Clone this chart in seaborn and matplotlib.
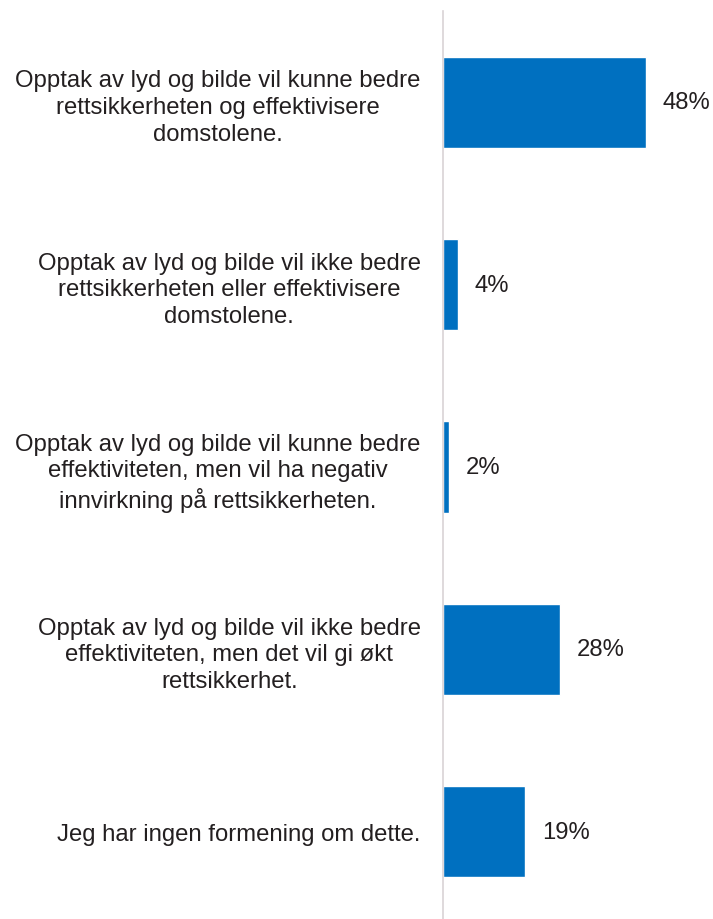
import matplotlib
matplotlib.use("Agg")
from matplotlib import pyplot as plt
import pandas as pd
import seaborn as sns

categories = [
    "Opptak av lyd og bilde vil kunne bedre\nrettsikkerheten og effektivisere\ndomstolene.",
    "Opptak av lyd og bilde vil ikke bedre\nrettsikkerheten eller effektivisere\ndomstolene.",
    "Opptak av lyd og bilde vil kunne bedre\neffektiviteten, men vil ha negativ\ninnvirkning på rettsikkerheten.",
    "Opptak av lyd og bilde vil ikke bedre\neffektiviteten, men det vil gi økt\nrettsikkerhet.",
    "Jeg har ingen formening om dette.",
]
values = [48, 3.6, 1.4, 27.7, 19.4]
value_labels = ["48%", "4%", "2%", "28%", "19%"]

sns.set_style("white")
plt.rcParams['font.family'] = ['Liberation Sans', 'DejaVu Sans']
text_color = '#231F20'

df = pd.DataFrame({'category': categories, 'value': values})

fig = plt.figure(figsize=(7.13, 9.2), dpi=100)
ax = fig.add_axes([443 / 713, -4 / 920, 270 / 713, 1 - 8 / 920])

sns.barplot(data=df, x='value', y='category', orient='h', color='#0070C0',
            saturation=1, width=0.5, ax=ax)

ax.set_xlim(0, 270 / (203 / 48))
ax.set_ylim(4.5, -0.5)
ax.set_xlabel('')
ax.set_ylabel('')
ax.set_xticks([])
ax.tick_params(axis='y', length=0, pad=16, labelsize=17.2, labelcolor=text_color)
for lbl in ax.get_yticklabels():
    lbl.set_multialignment('center')
    lbl.set_linespacing(1.27)

for side in ['top', 'right', 'bottom']:
    ax.spines[side].set_visible(False)
ax.spines['left'].set_color('#D9D3D6')
ax.spines['left'].set_linewidth(1.2)

for i, (v, t) in enumerate(zip(values, value_labels)):
    ax.annotate(t, xy=(v, i), xytext=(12, 0), textcoords='offset points',
                va='center', ha='left', fontsize=17.2, color=text_color)

fig.savefig('out.png', dpi=100)
